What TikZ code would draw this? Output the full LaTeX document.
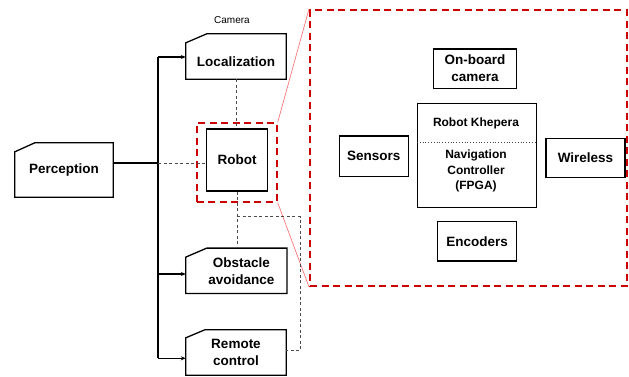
\documentclass[tikz,border=0pt]{standalone}
\usepackage{fontspec}
\setmainfont{Liberation Sans}
\usetikzlibrary{arrows.meta}
\tikzset{
  lbl/.style={font=\fontsize{13.5}{17}\selectfont\bfseries, align=center, inner sep=0pt},
  box/.style={lbl, draw=black, line width=1.3pt},
  cut/.style={lbl, draw=none},
  outline/.style={draw=black, line width=1.3pt},
  conn/.style={draw=black, line width=1.3pt},
  arr/.style={conn, -{Stealth[length=5pt,width=4pt]}},
  gdash/.style={draw=black!70, line width=0.8pt, dash pattern=on 3pt off 2.5pt},
  rdash/.style={draw=red!80!black, line width=2pt, dash pattern=on 7pt off 4.5pt},
  rthin/.style={draw=red!60!white, line width=0.6pt},
  small/.style={font=\fontsize{12}{15.5}\selectfont\bfseries, align=center, inner sep=0pt}
}
\begin{document}
\begin{tikzpicture}[x=1pt,y=-1pt]
\useasboundingbox (0,0) rectangle (629,376);

% zoom frames
\node[rdash, minimum width=80pt, minimum height=78.4pt, inner sep=0pt] (robred) at (236.7,162.5) {};
\node[rdash, minimum width=316.5pt, minimum height=276pt, inner sep=0pt] (zoom) at (468.25,148) {};
\draw[rthin] (robred.north east) -- (zoom.north west);
\draw[rthin] (robred.south east) -- (zoom.south west);

% left-hand boxes with cut corner
\node[cut, minimum width=98pt, minimum height=54pt] (perc) at (64,170) {Perception};
\node[cut, minimum width=100pt, minimum height=45pt] (loc) at (236,56.5) {\raisebox{-5pt}[\height][\depth]{Localization}};
\node[cut, minimum width=100.7pt, minimum height=45pt] (obs) at (236.35,270.8) {\hspace*{10pt}Obstacle\\\hspace*{10pt}avoidance};
\node[cut, minimum width=100pt, minimum height=45pt] (rem) at (236,352.5) {Remote\\control};
\foreach \n/\d/\r in {perc/9/20,loc/9/21,obs/9/21,rem/8/19}
  \draw[outline] ([yshift=-\d pt]\n.north west) -- ([xshift=\r pt]\n.north west) -- (\n.north east) -- (\n.south east) -- (\n.south west) -- cycle;

\node[font=\fontsize{10}{12}\selectfont, inner sep=0pt] (cam) at (232,20.5) {Camera};

\node[box, minimum width=60.6pt, minimum height=62pt] (robot) at (237,160) {Robot};

% zoomed content
\node[box, minimum width=83.4pt, minimum height=39.3pt] (onb) at (475,68.6) {On-board\\camera};
\node[box, minimum width=119pt, minimum height=104pt] (khep) at (477.2,155.3) {};
\node[small] (khtop) at (476,123.3) {Robot Khepera};
\node[small] (khbot) at (476,171.3) {Navigation\\Controller\\(FPGA)};
\draw[black!70, line width=0.8pt, dotted] (khep.west |- 0,142.3) -- (khep.east |- 0,142.3);
\node[box, minimum width=69pt, minimum height=40.7pt] (sens) at (373.8,156.3) {Sensors};
\node[box, minimum width=79pt, minimum height=39pt] (wire) at (585.5,157.8) {Wireless};
\node[box, minimum width=79pt, minimum height=39.3pt] (enc) at (477.2,241.3) {Encoders};

% connectors
\coordinate (j) at (158,163);
\coordinate (bt) at (158,57);
\coordinate (bm) at (158,274);
\coordinate (bb) at (158,358.3);
\draw[conn] (perc.east |- j) -- (j);
\draw[conn] (bt) -- (bb);
\draw[arr] (bt) -- (loc.west |- bt);
\draw[arr] (bm) -- (obs.west |- bm);
\draw[arr] (bb) -- (rem.west |- bb);
\draw[gdash] (j) -- (robot.west |- j);
\draw[gdash] (loc.south) -- (loc.south |- robot.north);
\draw[gdash] (robot.south) -- (robot.south |- obs.north);
\coordinate (k) at (237,216.5);
\coordinate (c1) at (300,216.5);
\coordinate (c2) at (300,350.7);
\draw[gdash] (k) -- (c1) -- (c2) -- (rem.east |- c2);
\end{tikzpicture}
\end{document}
